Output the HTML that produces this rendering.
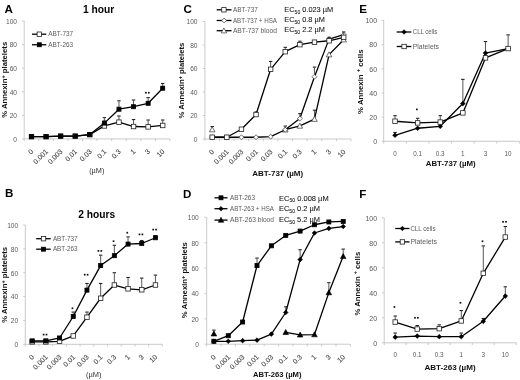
<!DOCTYPE html><html><head><meta charset="utf-8"><style>html,body{margin:0;padding:0;background:#fff;}svg{display:block;will-change:transform;filter:blur(0.3px);}text{font-family:"Liberation Sans",sans-serif;}</style></head><body>
<svg width="520" height="380" viewBox="0 0 520 380">
<rect width="520" height="380" fill="#fff"/>
<text x="4.6" y="12.7" font-size="11.6" fill="#000" font-weight="bold" text-anchor="start">A</text>
<text x="83" y="12.7" font-size="10.2" fill="#000" font-weight="bold" text-anchor="start" textLength="31.3" lengthAdjust="spacingAndGlyphs">1 hour</text>
<g stroke="#c4c4c4" stroke-width="0.9" fill="none">
<path d="M24.2 21V138.9"/>
<path d="M24.2 138.9H170"/>
<path d="M22 138.9H24.2"/>
<path d="M22 115.32H24.2"/>
<path d="M22 91.74H24.2"/>
<path d="M22 68.16H24.2"/>
<path d="M22 44.58H24.2"/>
<path d="M22 21H24.2"/>
<path d="M24.2 138.9V141.1"/>
<path d="M38.78 138.9V141.1"/>
<path d="M53.36 138.9V141.1"/>
<path d="M67.94 138.9V141.1"/>
<path d="M82.52 138.9V141.1"/>
<path d="M97.1 138.9V141.1"/>
<path d="M111.68 138.9V141.1"/>
<path d="M126.26 138.9V141.1"/>
<path d="M140.84 138.9V141.1"/>
<path d="M155.42 138.9V141.1"/>
<path d="M170 138.9V141.1"/>
</g>
<text x="17" y="141.7" font-size="6.6" fill="#5a5a5a" font-weight="normal" text-anchor="end">0</text>
<text x="17" y="118.12" font-size="6.6" fill="#5a5a5a" font-weight="normal" text-anchor="end">20</text>
<text x="17" y="94.54" font-size="6.6" fill="#5a5a5a" font-weight="normal" text-anchor="end">40</text>
<text x="17" y="70.96" font-size="6.6" fill="#5a5a5a" font-weight="normal" text-anchor="end">60</text>
<text x="17" y="47.38" font-size="6.6" fill="#5a5a5a" font-weight="normal" text-anchor="end">80</text>
<text x="17" y="23.8" font-size="6.6" fill="#5a5a5a" font-weight="normal" text-anchor="end">100</text>
<text x="33.89" y="152.1" font-size="7" fill="#444444" stroke="#444444" stroke-width="0.12" text-anchor="end" transform="rotate(-45 33.89 152.1)">0</text>
<text x="48.47" y="152.1" font-size="7" fill="#444444" stroke="#444444" stroke-width="0.12" text-anchor="end" transform="rotate(-45 48.47 152.1)">0.001</text>
<text x="63.05" y="152.1" font-size="7" fill="#444444" stroke="#444444" stroke-width="0.12" text-anchor="end" transform="rotate(-45 63.05 152.1)">0.003</text>
<text x="77.63" y="152.1" font-size="7" fill="#444444" stroke="#444444" stroke-width="0.12" text-anchor="end" transform="rotate(-45 77.63 152.1)">0.01</text>
<text x="92.21" y="152.1" font-size="7" fill="#444444" stroke="#444444" stroke-width="0.12" text-anchor="end" transform="rotate(-45 92.21 152.1)">0.03</text>
<text x="106.79" y="152.1" font-size="7" fill="#444444" stroke="#444444" stroke-width="0.12" text-anchor="end" transform="rotate(-45 106.79 152.1)">0.1</text>
<text x="121.37" y="152.1" font-size="7" fill="#444444" stroke="#444444" stroke-width="0.12" text-anchor="end" transform="rotate(-45 121.37 152.1)">0.3</text>
<text x="135.95" y="152.1" font-size="7" fill="#444444" stroke="#444444" stroke-width="0.12" text-anchor="end" transform="rotate(-45 135.95 152.1)">1</text>
<text x="150.53" y="152.1" font-size="7" fill="#444444" stroke="#444444" stroke-width="0.12" text-anchor="end" transform="rotate(-45 150.53 152.1)">3</text>
<text x="165.11" y="152.1" font-size="7" fill="#444444" stroke="#444444" stroke-width="0.12" text-anchor="end" transform="rotate(-45 165.11 152.1)">10</text>
<text x="96.8" y="172.5" font-size="6.6" fill="#333" font-weight="normal" text-anchor="middle" textLength="15.2" lengthAdjust="spacingAndGlyphs">(µM)</text>
<text x="7" y="79.8" font-size="7.4" font-weight="bold" fill="#111" text-anchor="middle" textLength="76" lengthAdjust="spacingAndGlyphs" transform="rotate(-90 7 79.8)">% Annexin<tspan font-size="70%" dy="-2.4">+</tspan><tspan dy="2.4"> </tspan>platelets</text>
<g fill="none">
<path d="M104.39 125.93V121.72" stroke="#444" stroke-width="0.9"/>
<path d="M102.69 121.22H106.09" stroke="#222" stroke-width="1.1"/>
<path d="M118.97 122.16V116.53" stroke="#444" stroke-width="0.9"/>
<path d="M117.27 116.03H120.67" stroke="#222" stroke-width="1.1"/>
<path d="M133.55 126.52V120.06" stroke="#444" stroke-width="0.9"/>
<path d="M131.85 119.56H135.25" stroke="#222" stroke-width="1.1"/>
<path d="M148.13 126.87V120.54" stroke="#444" stroke-width="0.9"/>
<path d="M146.43 120.04H149.83" stroke="#222" stroke-width="1.1"/>
<path d="M162.71 125.46V120.54" stroke="#444" stroke-width="0.9"/>
<path d="M161.01 120.04H164.41" stroke="#222" stroke-width="1.1"/>
</g>
<polyline points="31.49,136.66 46.07,136.66 60.65,136.19 75.23,136.19 89.81,134.66 104.39,125.93 118.97,122.16 133.55,126.52 148.13,126.87 162.71,125.46" fill="none" stroke="#000" stroke-width="1.3" stroke-linejoin="round"/>
<rect x="29.24" y="134.41" width="4.5" height="4.5" fill="#fff" stroke="#222" stroke-width="0.8"/>
<rect x="43.82" y="134.41" width="4.5" height="4.5" fill="#fff" stroke="#222" stroke-width="0.8"/>
<rect x="58.4" y="133.94" width="4.5" height="4.5" fill="#fff" stroke="#222" stroke-width="0.8"/>
<rect x="72.98" y="133.94" width="4.5" height="4.5" fill="#fff" stroke="#222" stroke-width="0.8"/>
<rect x="87.56" y="132.41" width="4.5" height="4.5" fill="#fff" stroke="#222" stroke-width="0.8"/>
<rect x="102.14" y="123.68" width="4.5" height="4.5" fill="#fff" stroke="#222" stroke-width="0.8"/>
<rect x="116.72" y="119.91" width="4.5" height="4.5" fill="#fff" stroke="#222" stroke-width="0.8"/>
<rect x="131.3" y="124.27" width="4.5" height="4.5" fill="#fff" stroke="#222" stroke-width="0.8"/>
<rect x="145.88" y="124.62" width="4.5" height="4.5" fill="#fff" stroke="#222" stroke-width="0.8"/>
<rect x="160.46" y="123.21" width="4.5" height="4.5" fill="#fff" stroke="#222" stroke-width="0.8"/>
<g fill="none">
<path d="M89.81 134.54V134.09" stroke="#444" stroke-width="0.9"/>
<path d="M88.11 133.59H91.51" stroke="#222" stroke-width="1.1"/>
<path d="M104.39 123.1V118.18" stroke="#444" stroke-width="0.9"/>
<path d="M102.69 117.68H106.09" stroke="#222" stroke-width="1.1"/>
<path d="M118.97 109.19V101.32" stroke="#444" stroke-width="0.9"/>
<path d="M117.27 100.82H120.67" stroke="#222" stroke-width="1.1"/>
<path d="M133.55 106.71V100.49" stroke="#444" stroke-width="0.9"/>
<path d="M131.85 99.99H135.25" stroke="#222" stroke-width="1.1"/>
<path d="M148.13 103.29V98.14" stroke="#444" stroke-width="0.9"/>
<path d="M146.43 97.64H149.83" stroke="#222" stroke-width="1.1"/>
<path d="M162.71 88.2V83.99" stroke="#444" stroke-width="0.9"/>
<path d="M161.01 83.49H164.41" stroke="#222" stroke-width="1.1"/>
</g>
<polyline points="31.49,136.66 46.07,136.66 60.65,136.07 75.23,136.07 89.81,134.54 104.39,123.1 118.97,109.19 133.55,106.71 148.13,103.29 162.71,88.2" fill="none" stroke="#000" stroke-width="1.3" stroke-linejoin="round"/>
<rect x="29.46" y="134.63" width="4.05" height="4.05" fill="#000" stroke="#000" stroke-width="0.8"/>
<rect x="44.05" y="134.63" width="4.05" height="4.05" fill="#000" stroke="#000" stroke-width="0.8"/>
<rect x="58.63" y="134.05" width="4.05" height="4.05" fill="#000" stroke="#000" stroke-width="0.8"/>
<rect x="73.2" y="134.05" width="4.05" height="4.05" fill="#000" stroke="#000" stroke-width="0.8"/>
<rect x="87.78" y="132.51" width="4.05" height="4.05" fill="#000" stroke="#000" stroke-width="0.8"/>
<rect x="102.36" y="121.08" width="4.05" height="4.05" fill="#000" stroke="#000" stroke-width="0.8"/>
<rect x="116.94" y="107.16" width="4.05" height="4.05" fill="#000" stroke="#000" stroke-width="0.8"/>
<rect x="131.52" y="104.69" width="4.05" height="4.05" fill="#000" stroke="#000" stroke-width="0.8"/>
<rect x="146.1" y="101.27" width="4.05" height="4.05" fill="#000" stroke="#000" stroke-width="0.8"/>
<rect x="160.68" y="86.18" width="4.05" height="4.05" fill="#000" stroke="#000" stroke-width="0.8"/>
<rect x="145.03" y="91.85" width="1.7" height="1.7" fill="#111"/>
<rect x="147.93" y="91.85" width="1.7" height="1.7" fill="#111"/>
<path d="M32 34.2H46.3" stroke="#000" stroke-width="1.3"/>
<rect x="37.1" y="32" width="4.4" height="4.4" fill="#fff" stroke="#222" stroke-width="0.8"/>
<text x="48.2" y="36.4" font-size="6.3" fill="#5a5a5a" font-weight="normal" text-anchor="start" textLength="25" lengthAdjust="spacingAndGlyphs">ABT-737</text>
<path d="M32 44.75H46.3" stroke="#000" stroke-width="1.3"/>
<rect x="37.32" y="42.77" width="3.96" height="3.96" fill="#000" stroke="#000" stroke-width="0.8"/>
<text x="48.2" y="46.95" font-size="6.3" fill="#5a5a5a" font-weight="normal" text-anchor="start" textLength="25" lengthAdjust="spacingAndGlyphs">ABT-263</text>
<text x="5" y="197.4" font-size="11.6" fill="#000" font-weight="bold" text-anchor="start">B</text>
<text x="78.3" y="217.5" font-size="10.2" fill="#000" font-weight="bold" text-anchor="start" textLength="36.8" lengthAdjust="spacingAndGlyphs">2 hours</text>
<g stroke="#c4c4c4" stroke-width="0.9" fill="none">
<path d="M25.3 225V344.3"/>
<path d="M25.3 344.3H162.3"/>
<path d="M23.1 344.3H25.3"/>
<path d="M23.1 320.44H25.3"/>
<path d="M23.1 296.58H25.3"/>
<path d="M23.1 272.72H25.3"/>
<path d="M23.1 248.86H25.3"/>
<path d="M23.1 225H25.3"/>
<path d="M25.3 344.3V346.5"/>
<path d="M39 344.3V346.5"/>
<path d="M52.7 344.3V346.5"/>
<path d="M66.4 344.3V346.5"/>
<path d="M80.1 344.3V346.5"/>
<path d="M93.8 344.3V346.5"/>
<path d="M107.5 344.3V346.5"/>
<path d="M121.2 344.3V346.5"/>
<path d="M134.9 344.3V346.5"/>
<path d="M148.6 344.3V346.5"/>
<path d="M162.3 344.3V346.5"/>
</g>
<text x="18.2" y="347.1" font-size="6.6" fill="#5a5a5a" font-weight="normal" text-anchor="end">0</text>
<text x="18.2" y="323.24" font-size="6.6" fill="#5a5a5a" font-weight="normal" text-anchor="end">20</text>
<text x="18.2" y="299.38" font-size="6.6" fill="#5a5a5a" font-weight="normal" text-anchor="end">40</text>
<text x="18.2" y="275.52" font-size="6.6" fill="#5a5a5a" font-weight="normal" text-anchor="end">60</text>
<text x="18.2" y="251.66" font-size="6.6" fill="#5a5a5a" font-weight="normal" text-anchor="end">80</text>
<text x="18.2" y="227.8" font-size="6.6" fill="#5a5a5a" font-weight="normal" text-anchor="end">100</text>
<text x="34.55" y="357.5" font-size="7" fill="#444444" stroke="#444444" stroke-width="0.12" text-anchor="end" transform="rotate(-45 34.55 357.5)">0</text>
<text x="48.25" y="357.5" font-size="7" fill="#444444" stroke="#444444" stroke-width="0.12" text-anchor="end" transform="rotate(-45 48.25 357.5)">0.001</text>
<text x="61.95" y="357.5" font-size="7" fill="#444444" stroke="#444444" stroke-width="0.12" text-anchor="end" transform="rotate(-45 61.95 357.5)">0.003</text>
<text x="75.65" y="357.5" font-size="7" fill="#444444" stroke="#444444" stroke-width="0.12" text-anchor="end" transform="rotate(-45 75.65 357.5)">0.01</text>
<text x="89.35" y="357.5" font-size="7" fill="#444444" stroke="#444444" stroke-width="0.12" text-anchor="end" transform="rotate(-45 89.35 357.5)">0.03</text>
<text x="103.05" y="357.5" font-size="7" fill="#444444" stroke="#444444" stroke-width="0.12" text-anchor="end" transform="rotate(-45 103.05 357.5)">0.1</text>
<text x="116.75" y="357.5" font-size="7" fill="#444444" stroke="#444444" stroke-width="0.12" text-anchor="end" transform="rotate(-45 116.75 357.5)">0.3</text>
<text x="130.45" y="357.5" font-size="7" fill="#444444" stroke="#444444" stroke-width="0.12" text-anchor="end" transform="rotate(-45 130.45 357.5)">1</text>
<text x="144.15" y="357.5" font-size="7" fill="#444444" stroke="#444444" stroke-width="0.12" text-anchor="end" transform="rotate(-45 144.15 357.5)">3</text>
<text x="157.85" y="357.5" font-size="7" fill="#444444" stroke="#444444" stroke-width="0.12" text-anchor="end" transform="rotate(-45 157.85 357.5)">10</text>
<text x="93.7" y="377.1" font-size="6.6" fill="#333" font-weight="normal" text-anchor="middle" textLength="15.5" lengthAdjust="spacingAndGlyphs">(µM)</text>
<text x="7.3" y="284.85" font-size="7.4" font-weight="bold" fill="#111" text-anchor="middle" textLength="75.9" lengthAdjust="spacingAndGlyphs" transform="rotate(-90 7.3 284.85)">% Annexin<tspan font-size="70%" dy="-2.4">+</tspan><tspan dy="2.4"> </tspan>platelets</text>
<g fill="none">
<path d="M86.95 317.22V312.59" stroke="#444" stroke-width="0.9"/>
<path d="M85.25 312.09H88.65" stroke="#222" stroke-width="1.1"/>
<path d="M100.65 298.25V283.96" stroke="#444" stroke-width="0.9"/>
<path d="M98.95 283.46H102.35" stroke="#222" stroke-width="1.1"/>
<path d="M114.35 285.01V273.22" stroke="#444" stroke-width="0.9"/>
<path d="M112.65 272.72H116.05" stroke="#222" stroke-width="1.1"/>
<path d="M128.05 288.83V277.99" stroke="#444" stroke-width="0.9"/>
<path d="M126.35 277.49H129.75" stroke="#222" stroke-width="1.1"/>
<path d="M141.75 289.78V278.59" stroke="#444" stroke-width="0.9"/>
<path d="M140.05 278.09H143.45" stroke="#222" stroke-width="1.1"/>
<path d="M155.45 285.01V275.61" stroke="#444" stroke-width="0.9"/>
<path d="M153.75 275.11H157.15" stroke="#222" stroke-width="1.1"/>
</g>
<polyline points="32.15,341.91 45.85,341.91 59.55,341.32 73.25,335.95 86.95,317.22 100.65,298.25 114.35,285.01 128.05,288.83 141.75,289.78 155.45,285.01" fill="none" stroke="#000" stroke-width="1.3" stroke-linejoin="round"/>
<rect x="29.9" y="339.66" width="4.5" height="4.5" fill="#fff" stroke="#222" stroke-width="0.8"/>
<rect x="43.6" y="339.66" width="4.5" height="4.5" fill="#fff" stroke="#222" stroke-width="0.8"/>
<rect x="57.3" y="339.07" width="4.5" height="4.5" fill="#fff" stroke="#222" stroke-width="0.8"/>
<rect x="71" y="333.7" width="4.5" height="4.5" fill="#fff" stroke="#222" stroke-width="0.8"/>
<rect x="84.7" y="314.97" width="4.5" height="4.5" fill="#fff" stroke="#222" stroke-width="0.8"/>
<rect x="98.4" y="296" width="4.5" height="4.5" fill="#fff" stroke="#222" stroke-width="0.8"/>
<rect x="112.1" y="282.76" width="4.5" height="4.5" fill="#fff" stroke="#222" stroke-width="0.8"/>
<rect x="125.8" y="286.58" width="4.5" height="4.5" fill="#fff" stroke="#222" stroke-width="0.8"/>
<rect x="139.5" y="287.53" width="4.5" height="4.5" fill="#fff" stroke="#222" stroke-width="0.8"/>
<rect x="153.2" y="282.76" width="4.5" height="4.5" fill="#fff" stroke="#222" stroke-width="0.8"/>
<g fill="none">
<path d="M73.25 316.5V312.59" stroke="#444" stroke-width="0.9"/>
<path d="M71.55 312.09H74.95" stroke="#222" stroke-width="1.1"/>
<path d="M86.95 290.14V283.96" stroke="#444" stroke-width="0.9"/>
<path d="M85.25 283.46H88.65" stroke="#222" stroke-width="1.1"/>
<path d="M100.65 265.56V255.68" stroke="#444" stroke-width="0.9"/>
<path d="M98.95 255.18H102.35" stroke="#222" stroke-width="1.1"/>
<path d="M114.35 255.66V245.78" stroke="#444" stroke-width="0.9"/>
<path d="M112.65 245.28H116.05" stroke="#222" stroke-width="1.1"/>
<path d="M128.05 244.09V237.43" stroke="#444" stroke-width="0.9"/>
<path d="M126.35 236.93H129.75" stroke="#222" stroke-width="1.1"/>
<path d="M141.75 243.49V241.01" stroke="#444" stroke-width="0.9"/>
<path d="M140.05 240.51H143.45" stroke="#222" stroke-width="1.1"/>
<path d="M155.45 237.77V236.24" stroke="#444" stroke-width="0.9"/>
<path d="M153.75 235.74H157.15" stroke="#222" stroke-width="1.1"/>
</g>
<polyline points="32.15,340.84 45.85,340.84 59.55,337.98 73.25,316.5 86.95,290.14 100.65,265.56 114.35,255.66 128.05,244.09 141.75,243.49 155.45,237.77" fill="none" stroke="#000" stroke-width="1.3" stroke-linejoin="round"/>
<rect x="30.12" y="338.82" width="4.05" height="4.05" fill="#000" stroke="#000" stroke-width="0.8"/>
<rect x="43.82" y="338.82" width="4.05" height="4.05" fill="#000" stroke="#000" stroke-width="0.8"/>
<rect x="57.52" y="335.95" width="4.05" height="4.05" fill="#000" stroke="#000" stroke-width="0.8"/>
<rect x="71.22" y="314.48" width="4.05" height="4.05" fill="#000" stroke="#000" stroke-width="0.8"/>
<rect x="84.92" y="288.11" width="4.05" height="4.05" fill="#000" stroke="#000" stroke-width="0.8"/>
<rect x="98.62" y="263.54" width="4.05" height="4.05" fill="#000" stroke="#000" stroke-width="0.8"/>
<rect x="112.32" y="253.64" width="4.05" height="4.05" fill="#000" stroke="#000" stroke-width="0.8"/>
<rect x="126.03" y="242.06" width="4.05" height="4.05" fill="#000" stroke="#000" stroke-width="0.8"/>
<rect x="139.72" y="241.47" width="4.05" height="4.05" fill="#000" stroke="#000" stroke-width="0.8"/>
<rect x="153.43" y="235.74" width="4.05" height="4.05" fill="#000" stroke="#000" stroke-width="0.8"/>
<rect x="42.75" y="333.75" width="1.7" height="1.7" fill="#111"/>
<rect x="45.65" y="333.75" width="1.7" height="1.7" fill="#111"/>
<rect x="71.6" y="307.45" width="1.7" height="1.7" fill="#111"/>
<rect x="83.85" y="273.85" width="1.7" height="1.7" fill="#111"/>
<rect x="86.75" y="273.85" width="1.7" height="1.7" fill="#111"/>
<rect x="97.55" y="250.05" width="1.7" height="1.7" fill="#111"/>
<rect x="100.45" y="250.05" width="1.7" height="1.7" fill="#111"/>
<rect x="112.7" y="240.35" width="1.7" height="1.7" fill="#111"/>
<rect x="126.4" y="231.85" width="1.7" height="1.7" fill="#111"/>
<rect x="138.65" y="233.55" width="1.7" height="1.7" fill="#111"/>
<rect x="141.55" y="233.55" width="1.7" height="1.7" fill="#111"/>
<rect x="152.35" y="228.75" width="1.7" height="1.7" fill="#111"/>
<rect x="155.25" y="228.75" width="1.7" height="1.7" fill="#111"/>
<path d="M36.2 238.7H50.7" stroke="#000" stroke-width="1.3"/>
<rect x="41.3" y="236.5" width="4.4" height="4.4" fill="#fff" stroke="#222" stroke-width="0.8"/>
<text x="52.9" y="240.9" font-size="6.3" fill="#5a5a5a" font-weight="normal" text-anchor="start" textLength="24.7" lengthAdjust="spacingAndGlyphs">ABT-737</text>
<path d="M36.2 249.2H50.7" stroke="#000" stroke-width="1.3"/>
<rect x="41.52" y="247.22" width="3.96" height="3.96" fill="#000" stroke="#000" stroke-width="0.8"/>
<text x="52.9" y="251.4" font-size="6.3" fill="#5a5a5a" font-weight="normal" text-anchor="start" textLength="24.7" lengthAdjust="spacingAndGlyphs">ABT-263</text>
<text x="183.6" y="12.7" font-size="11.6" fill="#000" font-weight="bold" text-anchor="start">C</text>
<g stroke="#c4c4c4" stroke-width="0.9" fill="none">
<path d="M204.9 21.5V139"/>
<path d="M204.9 139H351"/>
<path d="M202.7 139H204.9"/>
<path d="M202.7 115.5H204.9"/>
<path d="M202.7 92H204.9"/>
<path d="M202.7 68.5H204.9"/>
<path d="M202.7 45H204.9"/>
<path d="M202.7 21.5H204.9"/>
<path d="M204.9 139V141.2"/>
<path d="M219.51 139V141.2"/>
<path d="M234.12 139V141.2"/>
<path d="M248.73 139V141.2"/>
<path d="M263.34 139V141.2"/>
<path d="M277.95 139V141.2"/>
<path d="M292.56 139V141.2"/>
<path d="M307.17 139V141.2"/>
<path d="M321.78 139V141.2"/>
<path d="M336.39 139V141.2"/>
<path d="M351 139V141.2"/>
</g>
<text x="197.5" y="141.8" font-size="6.6" fill="#5a5a5a" font-weight="normal" text-anchor="end">0</text>
<text x="197.5" y="118.3" font-size="6.6" fill="#5a5a5a" font-weight="normal" text-anchor="end">20</text>
<text x="197.5" y="94.8" font-size="6.6" fill="#5a5a5a" font-weight="normal" text-anchor="end">40</text>
<text x="197.5" y="71.3" font-size="6.6" fill="#5a5a5a" font-weight="normal" text-anchor="end">60</text>
<text x="197.5" y="47.8" font-size="6.6" fill="#5a5a5a" font-weight="normal" text-anchor="end">80</text>
<text x="197.5" y="24.3" font-size="6.6" fill="#5a5a5a" font-weight="normal" text-anchor="end">100</text>
<text x="214.61" y="152.2" font-size="7" fill="#444444" stroke="#444444" stroke-width="0.12" text-anchor="end" transform="rotate(-45 214.61 152.2)">0</text>
<text x="229.22" y="152.2" font-size="7" fill="#444444" stroke="#444444" stroke-width="0.12" text-anchor="end" transform="rotate(-45 229.22 152.2)">0.001</text>
<text x="243.83" y="152.2" font-size="7" fill="#444444" stroke="#444444" stroke-width="0.12" text-anchor="end" transform="rotate(-45 243.83 152.2)">0.003</text>
<text x="258.44" y="152.2" font-size="7" fill="#444444" stroke="#444444" stroke-width="0.12" text-anchor="end" transform="rotate(-45 258.44 152.2)">0.01</text>
<text x="273.04" y="152.2" font-size="7" fill="#444444" stroke="#444444" stroke-width="0.12" text-anchor="end" transform="rotate(-45 273.04 152.2)">0.03</text>
<text x="287.65" y="152.2" font-size="7" fill="#444444" stroke="#444444" stroke-width="0.12" text-anchor="end" transform="rotate(-45 287.65 152.2)">0.1</text>
<text x="302.26" y="152.2" font-size="7" fill="#444444" stroke="#444444" stroke-width="0.12" text-anchor="end" transform="rotate(-45 302.26 152.2)">0.3</text>
<text x="316.88" y="152.2" font-size="7" fill="#444444" stroke="#444444" stroke-width="0.12" text-anchor="end" transform="rotate(-45 316.88 152.2)">1</text>
<text x="331.49" y="152.2" font-size="7" fill="#444444" stroke="#444444" stroke-width="0.12" text-anchor="end" transform="rotate(-45 331.49 152.2)">3</text>
<text x="346.09" y="152.2" font-size="7" fill="#444444" stroke="#444444" stroke-width="0.12" text-anchor="end" transform="rotate(-45 346.09 152.2)">10</text>
<text x="252.3" y="176.2" font-size="7.3" fill="#111" font-weight="bold" text-anchor="start" textLength="50.8" lengthAdjust="spacingAndGlyphs">ABT-737 (µM)</text>
<text x="184.3" y="80.55" font-size="7.4" font-weight="bold" fill="#111" text-anchor="middle" textLength="75.9" lengthAdjust="spacingAndGlyphs" transform="rotate(-90 184.3 80.55)">% Annexin<tspan font-size="70%" dy="-2.4">+</tspan><tspan dy="2.4"> </tspan>platelets</text>
<g fill="none">
<path d="M212.21 129.6V127.05" stroke="#444" stroke-width="0.9"/>
<path d="M210.51 126.55H213.91" stroke="#222" stroke-width="1.1"/>
<path d="M314.48 119.14V110.71" stroke="#444" stroke-width="0.9"/>
<path d="M312.78 110.21H316.18" stroke="#222" stroke-width="1.1"/>
</g>
<polyline points="285.25,129.72 299.87,125.96 314.48,119.14 329.09,54.64 343.69,39.71" fill="none" stroke="#000" stroke-width="1.3" stroke-linejoin="round"/>
<path d="M212.21 126.81L215 131.83L209.42 131.83Z" fill="#fff" stroke="#333" stroke-width="0.7"/>
<path d="M285.25 126.93L288.05 131.95L282.46 131.95Z" fill="#fff" stroke="#333" stroke-width="0.7"/>
<path d="M299.87 123.17L302.66 128.19L297.07 128.19Z" fill="#fff" stroke="#333" stroke-width="0.7"/>
<path d="M314.48 116.35L317.27 121.37L311.69 121.37Z" fill="#fff" stroke="#333" stroke-width="0.7"/>
<path d="M329.09 51.85L331.88 56.87L326.3 56.87Z" fill="#fff" stroke="#333" stroke-width="0.7"/>
<path d="M343.69 36.92L346.49 41.94L340.9 41.94Z" fill="#fff" stroke="#333" stroke-width="0.7"/>
<g fill="none">
<path d="M285.25 129.72V126.58" stroke="#444" stroke-width="0.9"/>
<path d="M283.56 126.08H286.95" stroke="#222" stroke-width="1.1"/>
<path d="M299.87 118.56V114.12" stroke="#444" stroke-width="0.9"/>
<path d="M298.17 113.62H301.56" stroke="#222" stroke-width="1.1"/>
<path d="M314.48 76.72V67.59" stroke="#444" stroke-width="0.9"/>
<path d="M312.78 67.09H316.18" stroke="#222" stroke-width="1.1"/>
</g>
<polyline points="212.21,137.24 226.81,137.24 241.43,137.24 256.04,137.24 270.64,136.65 285.25,129.72 299.87,118.56 314.48,76.72 329.09,39.12 343.69,34.66" fill="none" stroke="#000" stroke-width="1.3" stroke-linejoin="round"/>
<path d="M212.21 134.76L214.68 137.24L212.21 139.71L209.73 137.24Z" fill="#fff" stroke="#333" stroke-width="0.7"/>
<path d="M226.81 134.76L229.29 137.24L226.81 139.71L224.34 137.24Z" fill="#fff" stroke="#333" stroke-width="0.7"/>
<path d="M241.43 134.76L243.9 137.24L241.43 139.71L238.95 137.24Z" fill="#fff" stroke="#333" stroke-width="0.7"/>
<path d="M256.04 134.76L258.51 137.24L256.04 139.71L253.56 137.24Z" fill="#fff" stroke="#333" stroke-width="0.7"/>
<path d="M270.64 134.18L273.12 136.65L270.64 139.12L268.17 136.65Z" fill="#fff" stroke="#333" stroke-width="0.7"/>
<path d="M285.25 127.24L287.73 129.72L285.25 132.19L282.78 129.72Z" fill="#fff" stroke="#333" stroke-width="0.7"/>
<path d="M299.87 116.08L302.34 118.56L299.87 121.03L297.39 118.56Z" fill="#fff" stroke="#333" stroke-width="0.7"/>
<path d="M314.48 74.25L316.95 76.72L314.48 79.2L312 76.72Z" fill="#fff" stroke="#333" stroke-width="0.7"/>
<path d="M329.09 36.65L331.56 39.12L329.09 41.6L326.61 39.12Z" fill="#fff" stroke="#333" stroke-width="0.7"/>
<path d="M343.69 32.18L346.17 34.66L343.69 37.13L341.22 34.66Z" fill="#fff" stroke="#333" stroke-width="0.7"/>
<g fill="none">
<path d="M256.04 114.56V112.47" stroke="#444" stroke-width="0.9"/>
<path d="M254.34 111.97H257.74" stroke="#222" stroke-width="1.1"/>
<path d="M270.64 69.32V61.95" stroke="#444" stroke-width="0.9"/>
<path d="M268.94 61.45H272.34" stroke="#222" stroke-width="1.1"/>
<path d="M285.25 51.7V47.85" stroke="#444" stroke-width="0.9"/>
<path d="M283.56 47.35H286.95" stroke="#222" stroke-width="1.1"/>
<path d="M299.87 44.65V41.74" stroke="#444" stroke-width="0.9"/>
<path d="M298.17 41.24H301.56" stroke="#222" stroke-width="1.1"/>
<path d="M329.09 40.77V37.86" stroke="#444" stroke-width="0.9"/>
<path d="M327.39 37.36H330.79" stroke="#222" stroke-width="1.1"/>
<path d="M343.69 37.36V32.46" stroke="#444" stroke-width="0.9"/>
<path d="M342 31.96H345.39" stroke="#222" stroke-width="1.1"/>
</g>
<polyline points="212.21,137.24 226.81,137.24 241.43,129.25 256.04,114.56 270.64,69.32 285.25,51.7 299.87,44.65 314.48,42.18 329.09,40.77 343.69,37.36" fill="none" stroke="#000" stroke-width="1.3" stroke-linejoin="round"/>
<rect x="209.96" y="134.99" width="4.5" height="4.5" fill="#fff" stroke="#222" stroke-width="0.8"/>
<rect x="224.56" y="134.99" width="4.5" height="4.5" fill="#fff" stroke="#222" stroke-width="0.8"/>
<rect x="239.18" y="127" width="4.5" height="4.5" fill="#fff" stroke="#222" stroke-width="0.8"/>
<rect x="253.79" y="112.31" width="4.5" height="4.5" fill="#fff" stroke="#222" stroke-width="0.8"/>
<rect x="268.39" y="67.07" width="4.5" height="4.5" fill="#fff" stroke="#222" stroke-width="0.8"/>
<rect x="283" y="49.45" width="4.5" height="4.5" fill="#fff" stroke="#222" stroke-width="0.8"/>
<rect x="297.62" y="42.4" width="4.5" height="4.5" fill="#fff" stroke="#222" stroke-width="0.8"/>
<rect x="312.23" y="39.93" width="4.5" height="4.5" fill="#fff" stroke="#222" stroke-width="0.8"/>
<rect x="326.84" y="38.52" width="4.5" height="4.5" fill="#fff" stroke="#222" stroke-width="0.8"/>
<rect x="341.44" y="35.11" width="4.5" height="4.5" fill="#fff" stroke="#222" stroke-width="0.8"/>
<path d="M216.7 9.8H231.5" stroke="#000" stroke-width="1.3"/>
<rect x="221.7" y="7.6" width="4.4" height="4.4" fill="#fff" stroke="#222" stroke-width="0.8"/>
<text x="232.9" y="12" font-size="6.3" fill="#5a5a5a" font-weight="normal" text-anchor="start" textLength="24.9" lengthAdjust="spacingAndGlyphs">ABT-737</text>
<path d="M216.7 20.5H231.5" stroke="#000" stroke-width="1.3"/>
<path d="M224.1 18.08L226.52 20.5L224.1 22.92L221.68 20.5Z" fill="#fff" stroke="#333" stroke-width="0.7"/>
<text x="232.9" y="22.7" font-size="6.3" fill="#5a5a5a" font-weight="normal" text-anchor="start" textLength="44.1" lengthAdjust="spacingAndGlyphs">ABT-737 + HSA</text>
<path d="M216.7 30.7H231.5" stroke="#000" stroke-width="1.3"/>
<path d="M223.9 27.97L226.63 32.88L221.17 32.88Z" fill="#fff" stroke="#333" stroke-width="0.7"/>
<text x="232.9" y="32.9" font-size="6.3" fill="#5a5a5a" font-weight="normal" text-anchor="start" textLength="44" lengthAdjust="spacingAndGlyphs">ABT-737 blood</text>
<text x="284.3" y="12.1" font-size="7.3" fill="#111" stroke="#111" stroke-width="0.06" textLength="48.9" lengthAdjust="spacingAndGlyphs">EC<tspan font-size="5" dy="1.8">50</tspan><tspan dy="-1.8"> 0.023 µM</tspan></text>
<text x="284.3" y="21.9" font-size="7.3" fill="#111" stroke="#111" stroke-width="0.06" textLength="40.5" lengthAdjust="spacingAndGlyphs">EC<tspan font-size="5" dy="1.8">50</tspan><tspan dy="-1.8"> 0.8 µM</tspan></text>
<text x="284.3" y="31.7" font-size="7.3" fill="#111" stroke="#111" stroke-width="0.06" textLength="40.5" lengthAdjust="spacingAndGlyphs">EC<tspan font-size="5" dy="1.8">50</tspan><tspan dy="-1.8"> 2.2 µM</tspan></text>
<text x="183" y="197.6" font-size="11.6" fill="#000" font-weight="bold" text-anchor="start">D</text>
<g stroke="#c4c4c4" stroke-width="0.9" fill="none">
<path d="M206.7 217.4V344.2"/>
<path d="M206.7 344.2H350.4"/>
<path d="M204.5 344.2H206.7"/>
<path d="M204.5 318.84H206.7"/>
<path d="M204.5 293.48H206.7"/>
<path d="M204.5 268.12H206.7"/>
<path d="M204.5 242.76H206.7"/>
<path d="M204.5 217.4H206.7"/>
<path d="M206.7 344.2V346.4"/>
<path d="M221.07 344.2V346.4"/>
<path d="M235.44 344.2V346.4"/>
<path d="M249.81 344.2V346.4"/>
<path d="M264.18 344.2V346.4"/>
<path d="M278.55 344.2V346.4"/>
<path d="M292.92 344.2V346.4"/>
<path d="M307.29 344.2V346.4"/>
<path d="M321.66 344.2V346.4"/>
<path d="M336.03 344.2V346.4"/>
<path d="M350.4 344.2V346.4"/>
</g>
<text x="198.8" y="347" font-size="6.6" fill="#5a5a5a" font-weight="normal" text-anchor="end">0</text>
<text x="198.8" y="321.64" font-size="6.6" fill="#5a5a5a" font-weight="normal" text-anchor="end">20</text>
<text x="198.8" y="296.28" font-size="6.6" fill="#5a5a5a" font-weight="normal" text-anchor="end">40</text>
<text x="198.8" y="270.92" font-size="6.6" fill="#5a5a5a" font-weight="normal" text-anchor="end">60</text>
<text x="198.8" y="245.56" font-size="6.6" fill="#5a5a5a" font-weight="normal" text-anchor="end">80</text>
<text x="198.8" y="220.2" font-size="6.6" fill="#5a5a5a" font-weight="normal" text-anchor="end">100</text>
<text x="216.28" y="357.4" font-size="7" fill="#444444" stroke="#444444" stroke-width="0.12" text-anchor="end" transform="rotate(-45 216.28 357.4)">0</text>
<text x="230.66" y="357.4" font-size="7" fill="#444444" stroke="#444444" stroke-width="0.12" text-anchor="end" transform="rotate(-45 230.66 357.4)">0.001</text>
<text x="245.03" y="357.4" font-size="7" fill="#444444" stroke="#444444" stroke-width="0.12" text-anchor="end" transform="rotate(-45 245.03 357.4)">0.003</text>
<text x="259.39" y="357.4" font-size="7" fill="#444444" stroke="#444444" stroke-width="0.12" text-anchor="end" transform="rotate(-45 259.39 357.4)">0.01</text>
<text x="273.76" y="357.4" font-size="7" fill="#444444" stroke="#444444" stroke-width="0.12" text-anchor="end" transform="rotate(-45 273.76 357.4)">0.03</text>
<text x="288.13" y="357.4" font-size="7" fill="#444444" stroke="#444444" stroke-width="0.12" text-anchor="end" transform="rotate(-45 288.13 357.4)">0.1</text>
<text x="302.5" y="357.4" font-size="7" fill="#444444" stroke="#444444" stroke-width="0.12" text-anchor="end" transform="rotate(-45 302.5 357.4)">0.3</text>
<text x="316.87" y="357.4" font-size="7" fill="#444444" stroke="#444444" stroke-width="0.12" text-anchor="end" transform="rotate(-45 316.87 357.4)">1</text>
<text x="331.24" y="357.4" font-size="7" fill="#444444" stroke="#444444" stroke-width="0.12" text-anchor="end" transform="rotate(-45 331.24 357.4)">3</text>
<text x="345.61" y="357.4" font-size="7" fill="#444444" stroke="#444444" stroke-width="0.12" text-anchor="end" transform="rotate(-45 345.61 357.4)">10</text>
<text x="252.9" y="377" font-size="7.3" fill="#111" font-weight="bold" text-anchor="start" textLength="48.6" lengthAdjust="spacingAndGlyphs">ABT-263 (µM)</text>
<text x="187" y="280.2" font-size="7.4" font-weight="bold" fill="#111" text-anchor="middle" textLength="76" lengthAdjust="spacingAndGlyphs" transform="rotate(-90 187 280.2)">% Annexin<tspan font-size="70%" dy="-2.4">+</tspan><tspan dy="2.4"> </tspan>platelets</text>
<g fill="none">
<path d="M213.88 333.8V330.63" stroke="#444" stroke-width="0.9"/>
<path d="M212.19 330.13H215.58" stroke="#222" stroke-width="1.1"/>
<path d="M328.84 292.59V283.2" stroke="#444" stroke-width="0.9"/>
<path d="M327.14 282.7H330.54" stroke="#222" stroke-width="1.1"/>
<path d="M343.21 256.33V249.6" stroke="#444" stroke-width="0.9"/>
<path d="M341.51 249.1H344.91" stroke="#222" stroke-width="1.1"/>
</g>
<polyline points="285.74,332.28 300.11,334.82 314.47,334.56 328.84,292.59 343.21,256.33" fill="none" stroke="#000" stroke-width="1.3" stroke-linejoin="round"/>
<path d="M213.88 331.01L216.67 336.03L211.09 336.03Z" fill="#000" stroke="#000" stroke-width="0.6"/>
<path d="M285.74 329.49L288.53 334.51L282.94 334.51Z" fill="#000" stroke="#000" stroke-width="0.6"/>
<path d="M300.11 332.03L302.9 337.05L297.31 337.05Z" fill="#000" stroke="#000" stroke-width="0.6"/>
<path d="M314.47 331.77L317.26 336.8L311.68 336.8Z" fill="#000" stroke="#000" stroke-width="0.6"/>
<path d="M328.84 289.8L331.63 294.82L326.05 294.82Z" fill="#000" stroke="#000" stroke-width="0.6"/>
<path d="M343.21 253.54L346 258.56L340.42 258.56Z" fill="#000" stroke="#000" stroke-width="0.6"/>
<g fill="none">
<path d="M285.74 312.5V307.29" stroke="#444" stroke-width="0.9"/>
<path d="M284.04 306.79H287.44" stroke="#222" stroke-width="1.1"/>
<path d="M300.11 259.62V250.23" stroke="#444" stroke-width="0.9"/>
<path d="M298.41 249.73H301.81" stroke="#222" stroke-width="1.1"/>
</g>
<polyline points="213.88,341.28 228.25,341.28 242.62,340.65 257,340.14 271.37,334.06 285.74,312.5 300.11,259.62 314.47,233 328.84,228.43 343.21,226.53" fill="none" stroke="#000" stroke-width="1.3" stroke-linejoin="round"/>
<path d="M213.88 338.94L216.22 341.28L213.88 343.62L211.54 341.28Z" fill="#000" stroke="#000" stroke-width="0.6"/>
<path d="M228.25 338.94L230.59 341.28L228.25 343.62L225.91 341.28Z" fill="#000" stroke="#000" stroke-width="0.6"/>
<path d="M242.62 338.31L244.97 340.65L242.62 342.99L240.28 340.65Z" fill="#000" stroke="#000" stroke-width="0.6"/>
<path d="M257 337.8L259.33 340.14L257 342.48L254.66 340.14Z" fill="#000" stroke="#000" stroke-width="0.6"/>
<path d="M271.37 331.72L273.7 334.06L271.37 336.4L269.03 334.06Z" fill="#000" stroke="#000" stroke-width="0.6"/>
<path d="M285.74 310.16L288.07 312.5L285.74 314.84L283.4 312.5Z" fill="#000" stroke="#000" stroke-width="0.6"/>
<path d="M300.11 257.28L302.44 259.62L300.11 261.96L297.77 259.62Z" fill="#000" stroke="#000" stroke-width="0.6"/>
<path d="M314.47 230.66L316.81 233L314.47 235.34L312.13 233Z" fill="#000" stroke="#000" stroke-width="0.6"/>
<path d="M328.84 226.09L331.18 228.43L328.84 230.77L326.5 228.43Z" fill="#000" stroke="#000" stroke-width="0.6"/>
<path d="M343.21 224.19L345.55 226.53L343.21 228.87L340.88 226.53Z" fill="#000" stroke="#000" stroke-width="0.6"/>
<g fill="none">
<path d="M257 265.58V258.6" stroke="#444" stroke-width="0.9"/>
<path d="M255.3 258.1H258.69" stroke="#222" stroke-width="1.1"/>
</g>
<polyline points="213.88,341.28 228.25,335.7 242.62,322.01 257,265.58 271.37,245.8 285.74,235.41 300.11,231.09 314.47,224.75 328.84,221.96 343.21,221.46" fill="none" stroke="#000" stroke-width="1.3" stroke-linejoin="round"/>
<rect x="211.86" y="339.26" width="4.05" height="4.05" fill="#000" stroke="#000" stroke-width="0.8"/>
<rect x="226.23" y="333.68" width="4.05" height="4.05" fill="#000" stroke="#000" stroke-width="0.8"/>
<rect x="240.6" y="319.99" width="4.05" height="4.05" fill="#000" stroke="#000" stroke-width="0.8"/>
<rect x="254.97" y="263.56" width="4.05" height="4.05" fill="#000" stroke="#000" stroke-width="0.8"/>
<rect x="269.34" y="243.78" width="4.05" height="4.05" fill="#000" stroke="#000" stroke-width="0.8"/>
<rect x="283.71" y="233.38" width="4.05" height="4.05" fill="#000" stroke="#000" stroke-width="0.8"/>
<rect x="298.08" y="229.07" width="4.05" height="4.05" fill="#000" stroke="#000" stroke-width="0.8"/>
<rect x="312.45" y="222.73" width="4.05" height="4.05" fill="#000" stroke="#000" stroke-width="0.8"/>
<rect x="326.82" y="219.94" width="4.05" height="4.05" fill="#000" stroke="#000" stroke-width="0.8"/>
<rect x="341.19" y="219.43" width="4.05" height="4.05" fill="#000" stroke="#000" stroke-width="0.8"/>
<path d="M214.5 197.8H227.5" stroke="#000" stroke-width="1.3"/>
<rect x="219.02" y="195.82" width="3.96" height="3.96" fill="#000" stroke="#000" stroke-width="0.8"/>
<text x="230" y="200" font-size="6.3" fill="#5a5a5a" font-weight="normal" text-anchor="start" textLength="25" lengthAdjust="spacingAndGlyphs">ABT-263</text>
<path d="M214.5 208.7H227.5" stroke="#000" stroke-width="1.3"/>
<path d="M221 206.41L223.29 208.7L221 210.99L218.71 208.7Z" fill="#000" stroke="#000" stroke-width="0.6"/>
<text x="230" y="210.9" font-size="6.3" fill="#5a5a5a" font-weight="normal" text-anchor="start" textLength="44" lengthAdjust="spacingAndGlyphs">ABT-263 + HSA</text>
<path d="M214.5 220.1H227.5" stroke="#000" stroke-width="1.3"/>
<path d="M221 217.37L223.73 222.28L218.27 222.28Z" fill="#000" stroke="#000" stroke-width="0.6"/>
<text x="230" y="222.3" font-size="6.3" fill="#5a5a5a" font-weight="normal" text-anchor="start" textLength="44" lengthAdjust="spacingAndGlyphs">ABT-263 blood</text>
<text x="279" y="200.6" font-size="7.3" fill="#111" stroke="#111" stroke-width="0.06" textLength="49.7" lengthAdjust="spacingAndGlyphs">EC<tspan font-size="5" dy="1.8">50</tspan><tspan dy="-1.8"> 0.008 µM</tspan></text>
<text x="279" y="211.2" font-size="7.3" fill="#111" stroke="#111" stroke-width="0.06" textLength="41" lengthAdjust="spacingAndGlyphs">EC<tspan font-size="5" dy="1.8">50</tspan><tspan dy="-1.8"> 0.2 µM</tspan></text>
<text x="279" y="222.2" font-size="7.3" fill="#111" stroke="#111" stroke-width="0.06" textLength="41" lengthAdjust="spacingAndGlyphs">EC<tspan font-size="5" dy="1.8">50</tspan><tspan dy="-1.8"> 5.2 µM</tspan></text>
<text x="359.2" y="12.8" font-size="11.6" fill="#000" font-weight="bold" text-anchor="start">E</text>
<g stroke="#c4c4c4" stroke-width="0.9" fill="none">
<path d="M383.7 20.4V141.3"/>
<path d="M383.7 141.3H519.42"/>
<path d="M381.5 141.3H383.7"/>
<path d="M381.5 117.12H383.7"/>
<path d="M381.5 92.94H383.7"/>
<path d="M381.5 68.76H383.7"/>
<path d="M381.5 44.58H383.7"/>
<path d="M381.5 20.4H383.7"/>
<path d="M383.7 141.3V143.5"/>
<path d="M406.32 141.3V143.5"/>
<path d="M428.94 141.3V143.5"/>
<path d="M451.56 141.3V143.5"/>
<path d="M474.18 141.3V143.5"/>
<path d="M496.8 141.3V143.5"/>
<path d="M519.42 141.3V143.5"/>
</g>
<text x="377.1" y="144.2" font-size="7" fill="#5a5a5a" font-weight="normal" text-anchor="end">0</text>
<text x="377.1" y="120.02" font-size="7" fill="#5a5a5a" font-weight="normal" text-anchor="end">20</text>
<text x="377.1" y="95.84" font-size="7" fill="#5a5a5a" font-weight="normal" text-anchor="end">40</text>
<text x="377.1" y="71.66" font-size="7" fill="#5a5a5a" font-weight="normal" text-anchor="end">60</text>
<text x="377.1" y="47.48" font-size="7" fill="#5a5a5a" font-weight="normal" text-anchor="end">80</text>
<text x="377.1" y="23.3" font-size="7" fill="#5a5a5a" font-weight="normal" text-anchor="end">100</text>
<text x="395.01" y="156" font-size="6.3" fill="#5a5a5a" font-weight="normal" text-anchor="middle">0</text>
<text x="417.63" y="156" font-size="6.3" fill="#5a5a5a" font-weight="normal" text-anchor="middle">0.1</text>
<text x="440.25" y="156" font-size="6.3" fill="#5a5a5a" font-weight="normal" text-anchor="middle">0.3</text>
<text x="462.87" y="156" font-size="6.3" fill="#5a5a5a" font-weight="normal" text-anchor="middle">1</text>
<text x="485.49" y="156" font-size="6.3" fill="#5a5a5a" font-weight="normal" text-anchor="middle">3</text>
<text x="508.11" y="156" font-size="6.3" fill="#5a5a5a" font-weight="normal" text-anchor="middle">10</text>
<text x="425.8" y="166.2" font-size="7.3" fill="#111" font-weight="bold" text-anchor="start" textLength="49.8" lengthAdjust="spacingAndGlyphs">ABT-737 (µM)</text>
<text x="362.7" y="81.7" font-size="7.4" font-weight="bold" fill="#111" text-anchor="middle" textLength="64.4" lengthAdjust="spacingAndGlyphs" transform="rotate(-90 362.7 81.7)">% Annexin <tspan font-size="70%" dy="-2.4">+</tspan><tspan dy="2.4"> </tspan>cells</text>
<g fill="none">
<path d="M395.01 135.26V132.97" stroke="#444" stroke-width="0.9"/>
<path d="M393.31 132.47H396.71" stroke="#222" stroke-width="1.1"/>
<path d="M462.87 103.58V79.9" stroke="#444" stroke-width="0.9"/>
<path d="M461.17 79.4H464.57" stroke="#222" stroke-width="1.1"/>
<path d="M485.49 53.04V42.06" stroke="#444" stroke-width="0.9"/>
<path d="M483.79 41.56H487.19" stroke="#222" stroke-width="1.1"/>
<path d="M508.11 48.57V35.41" stroke="#444" stroke-width="0.9"/>
<path d="M506.41 34.91H509.81" stroke="#222" stroke-width="1.1"/>
</g>
<polyline points="395.01,135.26 417.63,128.24 440.25,126.31 462.87,103.58 485.49,53.04 508.11,48.57" fill="none" stroke="#000" stroke-width="1.3" stroke-linejoin="round"/>
<path d="M395.01 132.92L397.35 135.26L395.01 137.6L392.67 135.26Z" fill="#000" stroke="#000" stroke-width="0.6"/>
<path d="M417.63 125.9L419.97 128.24L417.63 130.58L415.29 128.24Z" fill="#000" stroke="#000" stroke-width="0.6"/>
<path d="M440.25 123.97L442.59 126.31L440.25 128.65L437.91 126.31Z" fill="#000" stroke="#000" stroke-width="0.6"/>
<path d="M462.87 101.24L465.21 103.58L462.87 105.92L460.53 103.58Z" fill="#000" stroke="#000" stroke-width="0.6"/>
<path d="M485.49 50.7L487.83 53.04L485.49 55.38L483.15 53.04Z" fill="#000" stroke="#000" stroke-width="0.6"/>
<path d="M508.11 46.23L510.45 48.57L508.11 50.91L505.77 48.57Z" fill="#000" stroke="#000" stroke-width="0.6"/>
<g fill="none">
<path d="M395.01 121.23V116.17" stroke="#444" stroke-width="0.9"/>
<path d="M393.31 115.67H396.71" stroke="#222" stroke-width="1.1"/>
<path d="M417.63 122.92V118.83" stroke="#444" stroke-width="0.9"/>
<path d="M415.93 118.33H419.33" stroke="#222" stroke-width="1.1"/>
<path d="M440.25 122.08V116.17" stroke="#444" stroke-width="0.9"/>
<path d="M438.55 115.67H441.95" stroke="#222" stroke-width="1.1"/>
</g>
<polyline points="395.01,121.23 417.63,122.92 440.25,122.08 462.87,112.89 485.49,57.88 508.11,48.57" fill="none" stroke="#000" stroke-width="1.3" stroke-linejoin="round"/>
<rect x="392.76" y="118.98" width="4.5" height="4.5" fill="#fff" stroke="#222" stroke-width="0.8"/>
<rect x="415.38" y="120.67" width="4.5" height="4.5" fill="#fff" stroke="#222" stroke-width="0.8"/>
<rect x="438" y="119.83" width="4.5" height="4.5" fill="#fff" stroke="#222" stroke-width="0.8"/>
<rect x="460.62" y="110.64" width="4.5" height="4.5" fill="#fff" stroke="#222" stroke-width="0.8"/>
<rect x="483.24" y="55.63" width="4.5" height="4.5" fill="#fff" stroke="#222" stroke-width="0.8"/>
<rect x="505.86" y="46.32" width="4.5" height="4.5" fill="#fff" stroke="#222" stroke-width="0.8"/>
<rect x="415.98" y="108.55" width="1.7" height="1.7" fill="#111"/>
<path d="M396.7 32H411.3" stroke="#000" stroke-width="1.3"/>
<path d="M404.1 29.71L406.39 32L404.1 34.29L401.81 32Z" fill="#000" stroke="#000" stroke-width="0.6"/>
<text x="412.8" y="34.2" font-size="6.3" fill="#5a5a5a" font-weight="normal" text-anchor="start" textLength="24.5" lengthAdjust="spacingAndGlyphs">CLL cells</text>
<path d="M396.7 46.5H411.3" stroke="#000" stroke-width="1.3"/>
<rect x="401.9" y="44.3" width="4.4" height="4.4" fill="#fff" stroke="#222" stroke-width="0.8"/>
<text x="412.8" y="48.7" font-size="6.3" fill="#5a5a5a" font-weight="normal" text-anchor="start" textLength="26.2" lengthAdjust="spacingAndGlyphs">Platelets</text>
<text x="359.2" y="197.7" font-size="11.6" fill="#000" font-weight="bold" text-anchor="start">F</text>
<g stroke="#c4c4c4" stroke-width="0.9" fill="none">
<path d="M384.2 217.8V342.8"/>
<path d="M384.2 342.8H516.32"/>
<path d="M382 342.8H384.2"/>
<path d="M382 317.8H384.2"/>
<path d="M382 292.8H384.2"/>
<path d="M382 267.8H384.2"/>
<path d="M382 242.8H384.2"/>
<path d="M382 217.8H384.2"/>
<path d="M384.2 342.8V345"/>
<path d="M406.22 342.8V345"/>
<path d="M428.24 342.8V345"/>
<path d="M450.26 342.8V345"/>
<path d="M472.28 342.8V345"/>
<path d="M494.3 342.8V345"/>
<path d="M516.32 342.8V345"/>
</g>
<text x="377.1" y="345.7" font-size="7" fill="#5a5a5a" font-weight="normal" text-anchor="end">0</text>
<text x="377.1" y="320.7" font-size="7" fill="#5a5a5a" font-weight="normal" text-anchor="end">20</text>
<text x="377.1" y="295.7" font-size="7" fill="#5a5a5a" font-weight="normal" text-anchor="end">40</text>
<text x="377.1" y="270.7" font-size="7" fill="#5a5a5a" font-weight="normal" text-anchor="end">60</text>
<text x="377.1" y="245.7" font-size="7" fill="#5a5a5a" font-weight="normal" text-anchor="end">80</text>
<text x="377.1" y="220.7" font-size="7" fill="#5a5a5a" font-weight="normal" text-anchor="end">100</text>
<text x="395.21" y="357.4" font-size="6.3" fill="#5a5a5a" font-weight="normal" text-anchor="middle">0</text>
<text x="417.23" y="357.4" font-size="6.3" fill="#5a5a5a" font-weight="normal" text-anchor="middle">0.1</text>
<text x="439.25" y="357.4" font-size="6.3" fill="#5a5a5a" font-weight="normal" text-anchor="middle">0.3</text>
<text x="461.27" y="357.4" font-size="6.3" fill="#5a5a5a" font-weight="normal" text-anchor="middle">1</text>
<text x="483.29" y="357.4" font-size="6.3" fill="#5a5a5a" font-weight="normal" text-anchor="middle">3</text>
<text x="505.31" y="357.4" font-size="6.3" fill="#5a5a5a" font-weight="normal" text-anchor="middle">10</text>
<text x="424.4" y="370" font-size="7.3" fill="#111" font-weight="bold" text-anchor="start" textLength="51.2" lengthAdjust="spacingAndGlyphs">ABT-263 (µM)</text>
<text x="359.9" y="283.6" font-size="7.4" font-weight="bold" fill="#111" text-anchor="middle" textLength="63.6" lengthAdjust="spacingAndGlyphs" transform="rotate(-90 359.9 283.6)">% Annexin <tspan font-size="70%" dy="-2.4">+</tspan><tspan dy="2.4"> </tspan>cells</text>
<g fill="none">
<path d="M395.21 337.18V333.55" stroke="#444" stroke-width="0.9"/>
<path d="M393.51 333.05H396.91" stroke="#222" stroke-width="1.1"/>
<path d="M461.27 336.68V333.55" stroke="#444" stroke-width="0.9"/>
<path d="M459.57 333.05H462.97" stroke="#222" stroke-width="1.1"/>
<path d="M483.29 321.3V318.93" stroke="#444" stroke-width="0.9"/>
<path d="M481.59 318.43H484.99" stroke="#222" stroke-width="1.1"/>
<path d="M505.31 296.05V287.3" stroke="#444" stroke-width="0.9"/>
<path d="M503.61 286.8H507.01" stroke="#222" stroke-width="1.1"/>
</g>
<polyline points="395.21,337.18 417.23,336.05 439.25,336.68 461.27,336.68 483.29,321.3 505.31,296.05" fill="none" stroke="#000" stroke-width="1.3" stroke-linejoin="round"/>
<path d="M395.21 334.84L397.55 337.18L395.21 339.51L392.87 337.18Z" fill="#000" stroke="#000" stroke-width="0.6"/>
<path d="M417.23 333.71L419.57 336.05L417.23 338.39L414.89 336.05Z" fill="#000" stroke="#000" stroke-width="0.6"/>
<path d="M439.25 334.34L441.59 336.68L439.25 339.01L436.91 336.68Z" fill="#000" stroke="#000" stroke-width="0.6"/>
<path d="M461.27 334.34L463.61 336.68L461.27 339.01L458.93 336.68Z" fill="#000" stroke="#000" stroke-width="0.6"/>
<path d="M483.29 318.96L485.63 321.3L483.29 323.64L480.95 321.3Z" fill="#000" stroke="#000" stroke-width="0.6"/>
<path d="M505.31 293.71L507.65 296.05L505.31 298.39L502.97 296.05Z" fill="#000" stroke="#000" stroke-width="0.6"/>
<g fill="none">
<path d="M395.21 322.05V316.55" stroke="#444" stroke-width="0.9"/>
<path d="M393.51 316.05H396.91" stroke="#222" stroke-width="1.1"/>
<path d="M417.23 329.05V326.05" stroke="#444" stroke-width="0.9"/>
<path d="M415.53 325.55H418.93" stroke="#222" stroke-width="1.1"/>
<path d="M439.25 328.68V325.3" stroke="#444" stroke-width="0.9"/>
<path d="M437.55 324.8H440.95" stroke="#222" stroke-width="1.1"/>
<path d="M461.27 320.93V311.05" stroke="#444" stroke-width="0.9"/>
<path d="M459.57 310.55H462.97" stroke="#222" stroke-width="1.1"/>
<path d="M483.29 273.3V246.43" stroke="#444" stroke-width="0.9"/>
<path d="M481.59 245.93H484.99" stroke="#222" stroke-width="1.1"/>
<path d="M505.31 237.05V227.05" stroke="#444" stroke-width="0.9"/>
<path d="M503.61 226.55H507.01" stroke="#222" stroke-width="1.1"/>
</g>
<polyline points="395.21,322.05 417.23,329.05 439.25,328.68 461.27,320.93 483.29,273.3 505.31,237.05" fill="none" stroke="#000" stroke-width="1.3" stroke-linejoin="round"/>
<rect x="392.96" y="319.8" width="4.5" height="4.5" fill="#fff" stroke="#222" stroke-width="0.8"/>
<rect x="414.98" y="326.8" width="4.5" height="4.5" fill="#fff" stroke="#222" stroke-width="0.8"/>
<rect x="437" y="326.43" width="4.5" height="4.5" fill="#fff" stroke="#222" stroke-width="0.8"/>
<rect x="459.02" y="318.68" width="4.5" height="4.5" fill="#fff" stroke="#222" stroke-width="0.8"/>
<rect x="481.04" y="271.05" width="4.5" height="4.5" fill="#fff" stroke="#222" stroke-width="0.8"/>
<rect x="503.06" y="234.8" width="4.5" height="4.5" fill="#fff" stroke="#222" stroke-width="0.8"/>
<rect x="393.56" y="306.15" width="1.7" height="1.7" fill="#111"/>
<rect x="414.13" y="316.95" width="1.7" height="1.7" fill="#111"/>
<rect x="417.03" y="316.95" width="1.7" height="1.7" fill="#111"/>
<rect x="459.62" y="301.95" width="1.7" height="1.7" fill="#111"/>
<rect x="481.64" y="240.45" width="1.7" height="1.7" fill="#111"/>
<rect x="502.21" y="220.95" width="1.7" height="1.7" fill="#111"/>
<rect x="505.11" y="220.95" width="1.7" height="1.7" fill="#111"/>
<path d="M395.2 228.5H409.5" stroke="#000" stroke-width="1.3"/>
<path d="M402.4 226.21L404.69 228.5L402.4 230.79L400.11 228.5Z" fill="#000" stroke="#000" stroke-width="0.6"/>
<text x="410.4" y="230.7" font-size="6.3" fill="#5a5a5a" font-weight="normal" text-anchor="start" textLength="25.1" lengthAdjust="spacingAndGlyphs">CLL cells</text>
<path d="M395.2 241.9H409.5" stroke="#000" stroke-width="1.3"/>
<rect x="400.2" y="239.7" width="4.4" height="4.4" fill="#fff" stroke="#222" stroke-width="0.8"/>
<text x="410.4" y="244.1" font-size="6.3" fill="#5a5a5a" font-weight="normal" text-anchor="start" textLength="26.5" lengthAdjust="spacingAndGlyphs">Platelets</text>
</svg></body></html>
